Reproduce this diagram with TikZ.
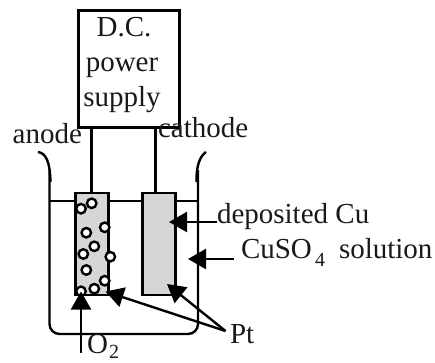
\documentclass[tikz,border=0pt]{standalone}
\usepackage{fontspec}
\setmainfont{Liberation Serif}
\usetikzlibrary{arrows.meta}
\tikzset{
  x=1pt,y=-1pt,
  line/.style={line width=2.4pt,draw=black},
  electrode/.style={line,fill=elecgray,minimum width=33pt,minimum height=102pt,inner sep=0pt,outer sep=0pt,anchor=north west},
  bubble/.style={circle,draw=black,fill=white,line width=2.4pt,minimum size=9.5pt,inner sep=0pt},
  lbl/.style={anchor=base west,inner sep=0pt,outer sep=0pt,font=\fontsize{29}{29}\selectfont,text=black!90},
  sub/.style={anchor=base west,inner sep=0pt,outer sep=0pt,font=\fontsize{20}{20}\selectfont,text=black!90},
  pointer/.style={line,-{Triangle[length=18pt,width=20pt]}}
}
\definecolor{elecgray}{HTML}{D6D6D6}
\begin{document}
\begin{tikzpicture}
\path[use as bounding box] (0,0) rectangle (435,362);
% power supply
\node[line,draw,minimum width=101pt,minimum height=117pt,inner sep=0pt,outer sep=0pt,anchor=north west] (box) at (78.5,10.5) {};
\node[lbl,anchor=base] (t1) at (124,36.7) {D.C.};
\node[lbl,anchor=base] (t2) at (122,71.7) {power};
\node[lbl,anchor=base] (t3) at (122,106) {supply};
% electrodes
\node[electrode] (an) at (75.5,193) {};
\node[electrode] (ca) at (142.5,193) {};
\coordinate (w1) at (91.5,193);
\coordinate (w2) at (155.5,193);
\draw[line] (box.south -| w1) -- (w1);
\draw[line] (box.south -| w2) -- (w2);
% beaker
\coordinate (lipL) at (38,152);
\coordinate (lipR) at (206,152);
\draw[line,rounded corners=10pt] (49.5,170) -- (49.5,334) -- (198,334) -- (198,170);
\draw[line] (lipL) .. controls (46,153) and (50,162) .. (50.5,182);
\draw[line] (lipR) .. controls (200,156) and (196,166) .. (196.5,182);
% liquid level
\draw[line] (49.5,201) -- (an.west |- 0,201);
\draw[line] (an.east |- 0,201) -- (ca.west |- 0,201);
\draw[line] (ca.east |- 0,201) -- (198,201);
% bubbles
\foreach \n/\x/\y in {a/91.7/203.3,b/81/208.7,c/104.7/227.3,d/86.3/232.7,e/94.3/246.3,f/83.3/254,g/110.3/256.7,h/86.3/270,i/104.7/280.7,j/94.3/288.7,k/81/291.3}
  \node[bubble] (bub\n) at (\x,\y) {};
% labels
\node[lbl] (anode) at (12.7,143) {anode};
\node[lbl] (cathode) at (158,137) {cathode};
\node[lbl] (dep) at (217,223) {deposited Cu};
\node[lbl] (cuso) at (241,258) {CuSO};
\node[sub] (four) at (315,266) {4};
\node[lbl] (sol) at (339,258) {solution};
\node[lbl] (pt) at (230,343) {Pt};
\node[lbl] (oxy) at (87,353) {O};
\node[sub] (two) at (109,358) {2};
% pointers
\coordinate (o2s) at (81,353);
\coordinate (o2e) at (81,291.5);
\coordinate (ptj) at (225.5,331);
\coordinate (pe1) at (105.5,291.5);
\coordinate (pe2) at (167,284);
\coordinate (de) at (169,222);
\coordinate (se) at (188,259);
\draw[pointer] (o2s) -- (o2e);
\draw[pointer] (ptj) -- (pe1);
\draw[pointer] (ptj) -- (pe2);
\draw[pointer] (dep.west |- de) -- (de);
\draw[pointer] (234,259) -- (se);
\end{tikzpicture}
\end{document}
